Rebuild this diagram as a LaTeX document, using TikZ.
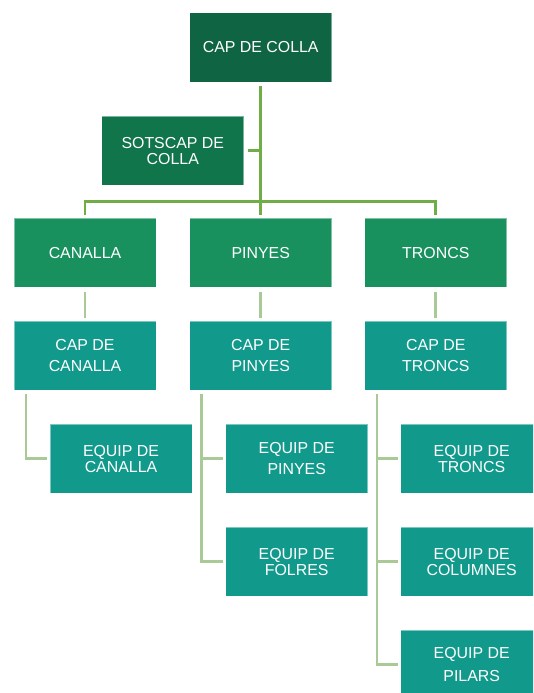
\documentclass[tikz,border=0pt]{standalone}
\usepackage{fontspec}
\setmainfont{Liberation Sans}
\definecolor{cTop}{HTML}{0F6443}
\definecolor{cSots}{HTML}{10754A}
\definecolor{cMid}{HTML}{18915E}
\definecolor{cTeal}{HTML}{119A8C}
\definecolor{cLine}{HTML}{70AD47}
\definecolor{cLight}{HTML}{A9CA96}
\begin{document}
\begin{tikzpicture}[x=1pt,y=-1pt,
  box/.style={minimum width=142pt, minimum height=69.3pt, inner sep=0pt,
    text=white, align=center, draw=white, draw opacity=0.45, line width=0.7pt,
    font=\fontsize{15.9}{21.5}\selectfont},
  tight/.style={font=\fontsize{15.9}{16}\selectfont},
  wide/.style={font=\fontsize{15.9}{23}\selectfont},
  topline/.style={draw=cLine, line width=2.7pt},
  subline/.style={draw=cLight, line width=2.7pt}]
\useasboundingbox (0,0) rectangle (533,693);
\clip (0,0) rectangle (533,693);
\fill[white] (0,0) rectangle (533,693);

\node[box, fill=cTop] (colla) at (260.7,47.2) {CAP DE COLLA};
\node[box, fill=cSots, tight] (sots) at (172.8,150.7) {SOTSCAP DE\\COLLA};

\node[box, fill=cMid] (canalla) at (85,252.8) {CANALLA};
\node[box, fill=cMid] (pinyes) at (260.7,252.8) {PINYES};
\node[box, fill=cMid] (troncs) at (435.8,252.8) {TRONCS};

\node[box, fill=cTeal] (capcan) at (85,355.6) {CAP DE\\CANALLA};
\node[box, fill=cTeal] (cappin) at (260.7,355.6) {CAP DE\\PINYES};
\node[box, fill=cTeal] (captro) at (435.8,355.6) {CAP DE\\TRONCS};

\node[box, fill=cTeal, tight] (eqcan) at (121,458.7) {EQUIP DE\\CANALLA};
\node[box, fill=cTeal] (eqpin) at (296.7,458.7) {EQUIP DE\\PINYES};
\node[box, fill=cTeal, tight] (eqfol) at (296.7,561.6) {EQUIP DE\\FOLRES};
\node[box, fill=cTeal, tight] (eqtro) at (471.7,458.7) {EQUIP DE\\TRONCS};
\node[box, fill=cTeal, tight] (eqcol) at (471.7,561.6) {EQUIP DE\\COLUMNES};
\node[box, fill=cTeal, wide] (eqpil) at (471.7,664.6) {EQUIP DE\\PILARS};

% top connectors
\coordinate (bar) at (0,201.7);
\draw[topline] ([yshift=-4pt]colla.south) -- ([yshift=3.3pt]pinyes.north);
\draw[topline] ([yshift=3.3pt]canalla.north) -- (canalla.north |- bar)
  -- (troncs.north |- bar) -- ([yshift=3.3pt]troncs.north);
\draw[topline] ([xshift=3.5pt]sots.east) -- (sots.east -| colla.south);

% level 2 -> 3
\draw[subline] ([yshift=-4pt]canalla.south) -- ([yshift=3pt]capcan.north);
\draw[subline] ([yshift=-4pt]pinyes.south) -- ([yshift=3pt]cappin.north);
\draw[subline] ([yshift=-4pt]troncs.south) -- ([yshift=3pt]captro.north);

% level 3 -> 4
\coordinate (cv) at ([xshift=12.4pt,yshift=-3.7pt]capcan.south west);
\coordinate (pv) at ([xshift=12.4pt,yshift=-3.7pt]cappin.south west);
\coordinate (tv) at ([xshift=12.4pt,yshift=-3.7pt]captro.south west);
\draw[subline] (cv) |- ([xshift=-2.5pt]eqcan.west);
\draw[subline] (pv) |- ([xshift=-2.5pt]eqfol.west);
\draw[subline] (pv |- eqpin.west) -- ([xshift=-2.5pt]eqpin.west);
\draw[subline] (tv) |- ([xshift=-2.5pt]eqpil.west);
\draw[subline] (tv |- eqtro.west) -- ([xshift=-2.5pt]eqtro.west);
\draw[subline] (tv |- eqcol.west) -- ([xshift=-2.5pt]eqcol.west);
\end{tikzpicture}
\end{document}
